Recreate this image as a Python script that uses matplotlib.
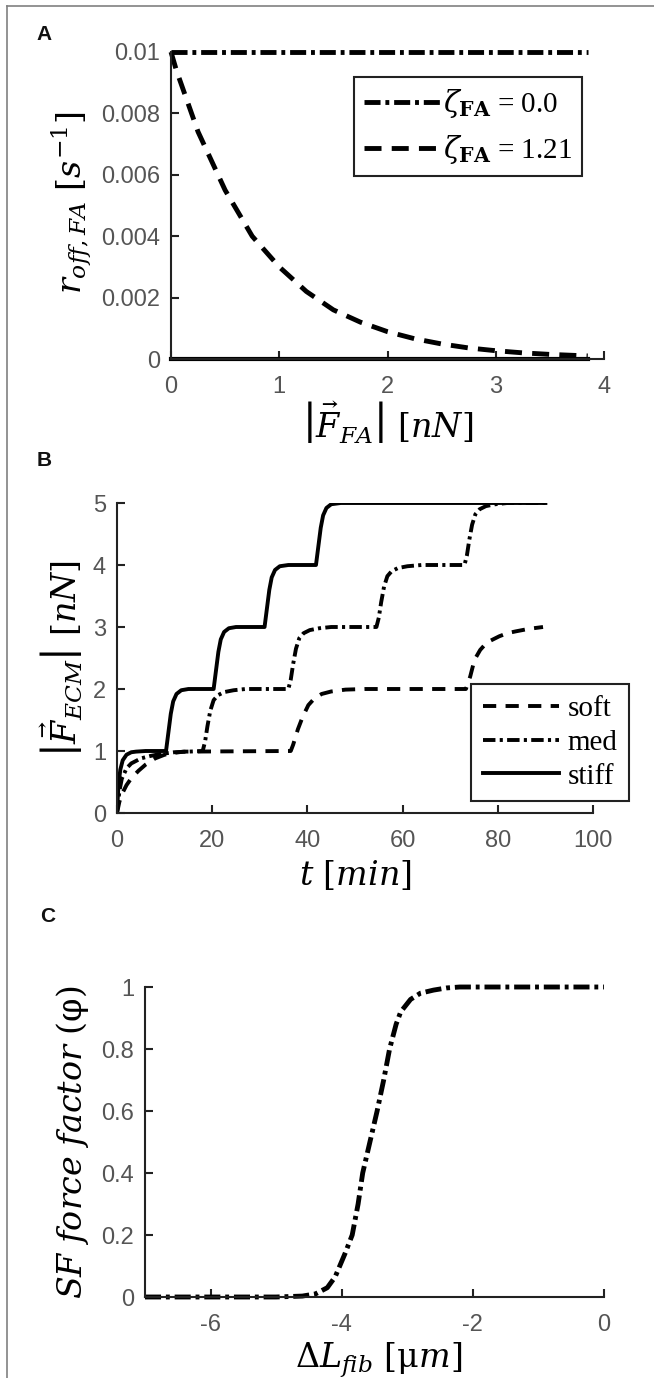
import matplotlib
matplotlib.use("Agg")
import matplotlib.pyplot as plt
from matplotlib.lines import Line2D

plt.rcParams['mathtext.fontset'] = 'dejavuserif'
plt.rcParams['font.family'] = ['Liberation Sans', 'DejaVu Sans']
plt.rcParams['axes.unicode_minus'] = False

# ----- data -----
# panel A: off-rate vs FA force
F_fa = [0, 0.05, 0.25, 0.5, 0.75, 1.0, 1.25, 1.5, 1.75, 2.0, 2.25, 2.5, 2.75, 3.0, 3.25, 3.5, 3.85]
r_zeta121 = [0.0100, 0.0094, 0.0074, 0.0055, 0.0040, 0.0030, 0.0022, 0.0016, 0.0012, 0.00089,
             0.00066, 0.00049, 0.00036, 0.00027, 0.00020, 0.00015, 0.00010]
F_flat = [0, 3.85]
r_zeta0 = [0.01, 0.01]
r_zero = [0.0, 0.0]

# panel B: ECM force vs time
t_stiff = [0, 0.3, 0.7, 1.2, 2, 3, 4, 6, 10.3, 10.8, 11.3, 11.8, 12.5, 13.5, 15, 20.3, 20.8, 21.3,
           21.8, 22.5, 23.5, 25, 31, 31.5, 32, 32.5, 33.2, 34.2, 36, 41.8, 42.3, 42.8, 43.3, 44,
           45, 47, 90]
F_stiff = [0, 0.45, 0.7, 0.85, 0.94, 0.98, 0.99, 1.0, 1.0, 1.3, 1.6, 1.8, 1.92, 1.98, 2.0, 2.0,
           2.3, 2.6, 2.8, 2.92, 2.98, 3.0, 3.0, 3.3, 3.6, 3.8, 3.92, 3.98, 4.0, 4.0, 4.3, 4.6,
           4.8, 4.92, 4.98, 5.0, 5.0]
t_med = [0, 0.5, 1, 2, 3, 5, 7, 9, 12, 18, 18.5, 19, 19.6, 20.3, 21.2, 22.5, 24.5, 27, 36, 36.5,
         37, 37.6, 38.3, 39.2, 40.5, 42.5, 45, 54.5, 55, 55.5, 56.1, 56.8, 57.7, 59, 61, 64, 73,
         73.5, 74, 74.6, 75.3, 76.2, 77.5, 79.5, 82, 90]
F_med = [0, 0.35, 0.55, 0.72, 0.8, 0.88, 0.92, 0.95, 0.98, 1.0, 1.15, 1.4, 1.65, 1.82, 1.9, 1.95,
         1.98, 2.0, 2.0, 2.15, 2.4, 2.65, 2.82, 2.9, 2.95, 2.98, 3.0, 3.0, 3.15, 3.4, 3.65, 3.82,
         3.9, 3.95, 3.98, 4.0, 4.0, 4.15, 4.4, 4.65, 4.82, 4.9, 4.95, 4.98, 5.0, 5.0]
t_soft = [0, 0.5, 1, 2, 3, 4.5, 6, 8, 10, 12, 14, 36.5, 37, 38, 39, 40.2, 41.5, 43, 45, 48, 52,
          73.3, 74.2, 75.1, 76.3, 77.7, 79, 80.3, 82, 83.8, 86.5, 89.5]
F_soft = [0, 0.18, 0.3, 0.45, 0.56, 0.68, 0.78, 0.88, 0.94, 0.97, 0.99, 1.0, 1.1, 1.35, 1.55,
          1.74, 1.85, 1.92, 1.96, 1.99, 2.0, 2.0, 2.2, 2.47, 2.63, 2.75, 2.8, 2.85, 2.9, 2.93,
          2.97, 3.0]

# panel C: stress fibre force factor
dL = [-7, -6, -5, -4.6, -4.4, -4.22, -4.1, -4.03, -3.95, -3.84, -3.75, -3.68, -3.57, -3.46,
      -3.36, -3.27, -3.17, -3.1, -2.95, -2.8, -2.6, -2.4, -2.2, -1, 0]
phi = [0, 0, 0, 0.003, 0.01, 0.03, 0.065, 0.1, 0.14, 0.2, 0.3, 0.4, 0.5, 0.6, 0.7, 0.8, 0.88,
       0.92, 0.96, 0.98, 0.99, 0.997, 1.0, 1.0, 1.0]

A_yticks = [0, 0.002, 0.004, 0.006, 0.008, 0.01]
A_ylabels = ['0', '0.002', '0.004', '0.006', '0.008', '0.01']
C_yticks = [0, 0.2, 0.4, 0.6, 0.8, 1]
C_ylabels = ['0', '0.2', '0.4', '0.6', '0.8', '1']

W, H = 654, 1378
fig = plt.figure(figsize=(W / 100, H / 100), dpi=100)


def px_axes(left, right, top, bottom):
    return fig.add_axes([left / W, 1 - bottom / H, (right - left) / W, (bottom - top) / H])


def style(ax):
    for s in ['top', 'right']:
        ax.spines[s].set_visible(False)
    for s in ['left', 'bottom']:
        ax.spines[s].set_linewidth(1.5)
        ax.spines[s].set_color('#222222')
    ax.tick_params(direction='in', length=6, width=1.5, color='#222222',
                   labelsize=17, labelcolor='#555555')
    ax.tick_params(axis='x', pad=12)
    ax.tick_params(axis='y', pad=8)


DASH = (0, (3.5, 2.1))
DASHDOT = (0, (3.3, 1.0, 0.8, 1.0))
leg_font = {'family': 'Liberation Serif', 'size': 21}

# ----- A -----
axA = px_axes(171, 604, 52, 359)
axA.plot(F_flat, r_zeta0, color='k', lw=3.5, ls=DASHDOT, clip_on=False,
         label=r'$\zeta_{\mathbf{FA}}$ = 0.0')
axA.plot(F_fa, r_zeta121, color='k', lw=3.5, ls=DASH, clip_on=False,
         label=r'$\zeta_{\mathbf{FA}}$ = 1.21')
axA.plot(F_flat, r_zero, color='k', lw=3.0, clip_on=False)
axA.set_xlim(0, 4)
axA.set_ylim(0, 0.01)
axA.set_xticks([0, 1, 2, 3, 4])
axA.set_yticks(A_yticks)
axA.set_yticklabels(A_ylabels)
style(axA)
axA.set_xlabel(r'$\left|\vec{F}_{FA}\right|\ [nN]$', fontsize=24)
axA.set_ylabel(r'$r_{off,FA}\ [s^{-1}]$', fontsize=24)
axA.xaxis.label.set_va('center')
axA.yaxis.label.set_va('center')
axA.xaxis.set_label_coords(0.5, -0.205)
axA.yaxis.set_label_coords(-0.229, 0.51)
legA = axA.legend(loc='upper right', bbox_to_anchor=(0.949, 0.919), prop=leg_font,
                  handlelength=2.6, handletextpad=0.1, borderpad=0.35, labelspacing=0.45,
                  borderaxespad=0, fancybox=False, framealpha=1)
legA.get_frame().set_edgecolor('#222222')
legA.get_frame().set_linewidth(1.5)

# ----- B -----
axB = px_axes(117, 593, 503, 813)
axB.plot(t_soft, F_soft, color='k', lw=2.8, ls=(0, (3.4, 2.4)), label='soft')
axB.plot(t_med, F_med, color='k', lw=2.8, ls=(0, (3.2, 1.1, 0.8, 1.1)), label='med')
axB.plot(t_stiff, F_stiff, color='k', lw=2.8, label='stiff')
axB.set_xlim(0, 100)
axB.set_ylim(0, 5)
axB.set_xticks([0, 20, 40, 60, 80, 100])
axB.set_yticks([0, 1, 2, 3, 4, 5])
style(axB)
axB.set_xlabel(r'$t\ [min]$', fontsize=24)
axB.set_ylabel(r'$\left|\vec{F}_{ECM}\right|\ [nN]$', fontsize=24)
axB.xaxis.label.set_va('center')
axB.yaxis.label.set_va('center')
axB.xaxis.set_label_coords(0.5, -0.2)
axB.yaxis.set_label_coords(-0.118, 0.5)
legB = axB.legend(loc='upper right', bbox_to_anchor=(1.076, 0.416), prop=leg_font,
                  handlelength=2.6, handletextpad=0.3, borderpad=0.4, labelspacing=0.25,
                  borderaxespad=0, fancybox=False, framealpha=1)
legB.get_frame().set_edgecolor('#222222')
legB.get_frame().set_linewidth(1.5)

# ----- C -----
axC = px_axes(145, 604, 987, 1297)
axC.plot(dL, phi, color='k', lw=3.5, ls=DASHDOT, clip_on=False)
axC.set_xlim(-7, 0)
axC.set_ylim(0, 1)
axC.set_xticks([-6, -4, -2, 0])
axC.set_yticks(C_yticks)
axC.set_yticklabels(C_ylabels)
style(axC)
axC.set_xlabel(r'$\Delta L_{fib}\ [\mathrm{\mu} m]$', fontsize=24)
axC.set_ylabel(r'$SF\ force\ factor\ (\mathrm{\varphi})$', fontsize=24)
axC.xaxis.label.set_va('center')
axC.yaxis.label.set_va('center')
axC.xaxis.set_label_coords(0.51, -0.205)
axC.yaxis.set_label_coords(-0.159, 0.5)

# panel letters
for letter, (x, y) in zip(['A', 'B', 'C'], [(44, 35), (44, 460), (48, 917)]):
    fig.text(x / W, 1 - y / H, letter, fontsize=15, fontweight='bold',
             ha='center', va='center', color='#111111')

# outer frame (left and top edges only)
fig.add_artist(Line2D([7 / W, 7 / W], [0, 1 - 6 / H], color='#808080', lw=1.2))
fig.add_artist(Line2D([7 / W, 1], [1 - 6 / H, 1 - 6 / H], color='#808080', lw=1.2))

fig.savefig('out.png', dpi=100)
